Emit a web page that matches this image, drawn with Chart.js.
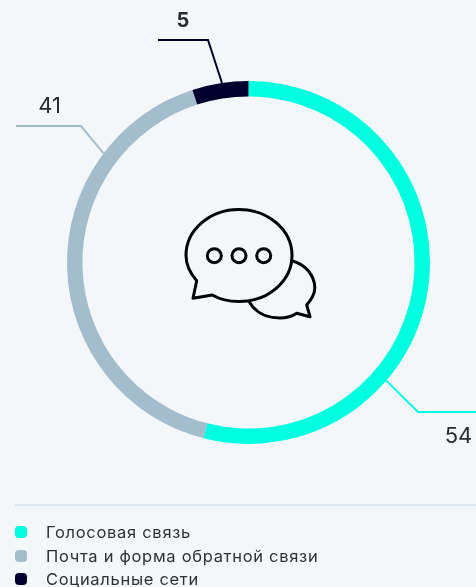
<!DOCTYPE html>
<html lang="ru"><head><meta charset="utf-8">
<style>
html,body{margin:0;padding:0;background:#f3f7fa;overflow:hidden}
#wrap{position:relative;width:476px;height:587px;overflow:hidden}
canvas{position:absolute;left:0;top:0}
svg{position:absolute;left:0;top:0}
#rule{position:absolute;left:15px;right:0;top:504px;height:2px;background:#dde5ec}
#legend{position:absolute;left:0;top:0}
.it{position:absolute;left:46px;font:16.5px "Inter",sans-serif;letter-spacing:.7px;color:#2f3034;white-space:nowrap;line-height:20px}
.sw{position:absolute;left:15px;width:12px;height:12px;border-radius:4px}
</style></head><body>
<div id="wrap">
<canvas id="c" width="476" height="587"></canvas>
<svg width="476" height="587" fill="none" stroke="#000" stroke-width="3" stroke-linejoin="round" stroke-linecap="round">
<path d="M196.7 280.7C190 273 186 265 186 255.5A53 46 0 0 1 292 255.5A53 46 0 0 1 239 301.5C230 301.5 220 299.5 212.3 295L193 298.3Z"/>
<path d="M291.7 260.7C305 264 314.8 275 314.8 288C314.8 295 311 300 306.7 305L310 316.7L296.7 313.3C292 316.5 286 318 280 318C266 318 255 312 249.3 301.7"/>
<circle cx="214.3" cy="255.7" r="7"/><circle cx="239" cy="255.7" r="7"/><circle cx="263.7" cy="255.7" r="7"/>
</svg>
<div id="rule"></div>
<div id="legend"></div>
</div>
<script src="https://cdn.jsdelivr.net/npm/chart.js@4"></script>
<script>
const categories = ["Голосовая связь", "Почта и форма обратной связи", "Социальные сети"];
const values = [54, 41, 5];
const colors = ["#00ffe0", "#a4bdcc", "#00002d"];

// leader geometry: angle on the ring (deg clockwise from top), elbow and end points, label anchor
const leaders = [
  {i:0, deg:130.6, elbow:[418,412], end:[476,412], label:[458.5,436], font:'400 22px Inter, sans-serif'},
  {i:1, deg:-53,   elbow:[81,126],  end:[16,126],  label:[49.5,106],  font:'400 22px Inter, sans-serif'},
  {i:2, deg:-8.4,  elbow:[208,40],  end:[158,40],  label:[183,20.5],  font:'700 20px Inter, sans-serif'}
];

const leaderPlugin = {
  id:'leaders',
  afterDatasetsDraw(chart){
    const ctx = chart.ctx, arc = chart.getDatasetMeta(0).data[0];
    leaders.forEach(l=>{
      const a = l.deg*Math.PI/180;
      const x = arc.x + arc.outerRadius*Math.sin(a), y = arc.y - arc.outerRadius*Math.cos(a);
      ctx.save();
      ctx.strokeStyle = colors[l.i]; ctx.lineWidth = 2;
      ctx.beginPath(); ctx.moveTo(x,y); ctx.lineTo(l.elbow[0],l.elbow[1]); ctx.lineTo(l.end[0],l.end[1]); ctx.stroke();
      ctx.fillStyle = '#2b2b2b'; ctx.font = l.font; ctx.textAlign='center'; ctx.textBaseline='middle';
      ctx.fillText(String(values[l.i]), l.label[0], l.label[1]);
      ctx.restore();
    });
  }
};

new Chart(document.getElementById('c'),{
  type:'doughnut',
  data:{labels:categories,datasets:[{data:values,backgroundColor:colors,borderWidth:0,hoverOffset:0}]},
  options:{
    responsive:false,animation:false,cutout:'91.5%',
    layout:{padding:{left:67,right:46,top:81,bottom:143}},
    plugins:{legend:{display:false},tooltip:{enabled:false}}
  },
  plugins:[leaderPlugin]
});

const legend = document.getElementById('legend');
const rowY = [532,556,579];
categories.forEach((t,i)=>{
  const s=document.createElement('div');s.className='sw';s.style.top=(rowY[i]-6)+'px';s.style.background=colors[i];legend.appendChild(s);
  const d=document.createElement('div');d.className='it';d.style.top=(rowY[i]-10)+'px';d.textContent=t;legend.appendChild(d);
});
</script>
</body></html>
